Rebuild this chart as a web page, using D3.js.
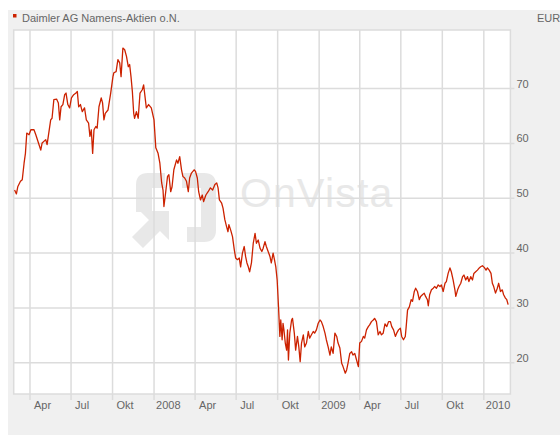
<!DOCTYPE html>
<html>
<head>
<meta charset="utf-8">
<script src="https://cdn.jsdelivr.net/npm/d3@7"></script>
<style>
  body { margin: 0; background: #fff; }
  svg { display: block; font-family: "Liberation Sans", Arial, sans-serif; }
</style>
</head>
<body>
<svg width="560" height="437"></svg>
<script>
var dates2007 = ["2007-02-27","2007-03-03","2007-03-06","2007-03-12","2007-03-16","2007-03-20","2007-03-23","2007-03-26","2007-03-31",
  "2007-04-04","2007-04-11","2007-04-15","2007-04-22","2007-04-26","2007-04-29","2007-05-07","2007-05-10","2007-05-18","2007-05-21",
  "2007-05-25","2007-05-31","2007-06-04","2007-06-07","2007-06-10","2007-06-14","2007-06-18","2007-06-21","2007-06-25","2007-06-29",
  "2007-07-03","2007-07-08","2007-07-13","2007-07-16","2007-07-19","2007-07-23","2007-07-27","2007-08-01","2007-08-05","2007-08-10",
  "2007-08-13","2007-08-16","2007-08-19","2007-08-22","2007-08-26","2007-08-29","2007-09-02","2007-09-07","2007-09-10","2007-09-13",
  "2007-09-16","2007-09-22","2007-09-28","2007-10-03","2007-10-05","2007-10-10","2007-10-14","2007-10-18","2007-10-21","2007-10-25",
  "2007-10-29","2007-11-02","2007-11-06","2007-11-09","2007-11-12","2007-11-15","2007-11-18","2007-11-20","2007-11-24","2007-11-28",
  "2007-12-02","2007-12-07","2007-12-10","2007-12-16","2007-12-21","2007-12-27"];
var close2007 = [51.4,50.7,52.0,53.0,53.3,56.3,58.1,61.8,61.5,
  62.4,62.4,61.5,59.7,58.7,60.0,60.6,59.7,64.2,64.5,
  67.9,68.0,67.3,64.2,66.6,67.0,68.8,69.1,67.0,66.4,
  68.2,68.8,69.1,69.4,66.6,67.0,65.7,66.4,64.2,63.6,
  61.2,62.4,58.1,62.4,63.0,62.7,66.6,68.2,67.3,64.2,
  65.4,66.0,69.1,72.1,72.8,73.0,75.2,74.6,72.1,77.3,
  77.0,75.8,73.9,74.3,72.1,69.4,65.4,64.5,65.7,64.5,
  69.1,69.7,70.6,66.4,67.0,66.4];

var dates2008 = ["2008-01-02","2008-01-06","2008-01-11","2008-01-15","2008-01-19","2008-01-22","2008-01-24","2008-01-28","2008-02-01",
  "2008-02-04","2008-02-08","2008-02-11","2008-02-15","2008-02-21","2008-02-24","2008-02-28","2008-03-03","2008-03-06","2008-03-10",
  "2008-03-14","2008-03-18","2008-03-21","2008-03-25","2008-03-31","2008-04-03","2008-04-07","2008-04-10","2008-04-14","2008-04-18",
  "2008-04-21","2008-04-26","2008-05-01","2008-05-06","2008-05-11","2008-05-16","2008-05-20","2008-05-23","2008-05-26","2008-05-31",
  "2008-06-03","2008-06-07","2008-06-11","2008-06-14","2008-06-16","2008-06-20","2008-06-24","2008-06-28","2008-07-01","2008-07-05",
  "2008-07-09","2008-07-12","2008-07-16","2008-07-20","2008-07-23","2008-07-26","2008-07-29","2008-08-01","2008-08-05","2008-08-09",
  "2008-08-13","2008-08-16","2008-08-20","2008-08-24","2008-08-28","2008-08-31","2008-09-04","2008-09-07","2008-09-11","2008-09-15",
  "2008-09-18","2008-09-22","2008-09-25","2008-09-28","2008-10-01","2008-10-04","2008-10-07","2008-10-09","2008-10-12","2008-10-14",
  "2008-10-16","2008-10-19","2008-10-22","2008-10-24","2008-10-26","2008-10-29","2008-11-02","2008-11-04","2008-11-08","2008-11-11",
  "2008-11-15","2008-11-18","2008-11-21","2008-11-24","2008-11-28","2008-12-01","2008-12-05","2008-12-09","2008-12-12","2008-12-16",
  "2008-12-20","2008-12-23","2008-12-27","2008-12-31"];
var close2008 = [64.2,59.1,58.1,56.3,52.7,51.4,48.4,51.1,53.9,
  54.2,51.1,52.0,55.1,56.9,56.3,57.5,55.1,53.9,53.6,
  53.0,51.1,53.6,54.5,55.1,54.8,53.6,51.1,49.6,50.5,
  49.3,50.5,51.1,51.8,51.4,52.4,52.7,51.8,49.6,49.0,
  48.1,46.0,44.7,43.8,45.1,44.1,42.9,40.5,39.0,38.7,
  39.0,37.4,39.9,41.1,39.3,38.1,37.4,36.5,38.1,41.7,
  43.5,41.7,42.3,40.8,40.2,40.8,42.0,41.1,40.2,39.3,
  38.1,39.9,38.7,37.4,35.0,30.1,24.7,27.7,24.1,27.1,
  25.9,23.5,22.2,25.9,20.4,25.3,27.7,28.0,25.3,22.2,
  24.7,22.8,20.1,23.5,25.0,22.8,23.5,25.6,24.4,25.0,
  25.6,25.3,25.9,27.1];

var dates2009 = ["2009-01-04","2009-01-07","2009-01-11","2009-01-15","2009-01-18","2009-01-22","2009-01-26","2009-01-29","2009-02-02",
  "2009-02-06","2009-02-10","2009-02-13","2009-02-17","2009-02-21","2009-02-24","2009-03-01","2009-03-04","2009-03-07","2009-03-11",
  "2009-03-15","2009-03-18","2009-03-22","2009-03-26","2009-03-30","2009-04-02","2009-04-06","2009-04-10","2009-04-13","2009-04-17",
  "2009-04-21","2009-04-24","2009-04-28","2009-05-02","2009-05-05","2009-05-09","2009-05-13","2009-05-17","2009-05-20","2009-05-24",
  "2009-05-28","2009-06-01","2009-06-05","2009-06-09","2009-06-12","2009-06-16","2009-06-20","2009-06-23","2009-06-27","2009-07-01",
  "2009-07-04","2009-07-08","2009-07-12","2009-07-14","2009-07-17","2009-07-21","2009-07-25","2009-07-28","2009-08-01","2009-08-04",
  "2009-08-08","2009-08-12","2009-08-15","2009-08-19","2009-08-23","2009-08-26","2009-08-30","2009-09-01","2009-09-04","2009-09-08",
  "2009-09-12","2009-09-15","2009-09-19","2009-09-23","2009-09-27","2009-09-30","2009-10-04","2009-10-08","2009-10-11","2009-10-15",
  "2009-10-19","2009-10-22","2009-10-26","2009-10-30","2009-11-01","2009-11-05","2009-11-08","2009-11-12","2009-11-16","2009-11-19",
  "2009-11-23","2009-11-27","2009-11-30","2009-12-04","2009-12-08","2009-12-11","2009-12-15","2009-12-19","2009-12-23","2009-12-26",
  "2009-12-30"];
var close2009 = [27.7,27.4,26.5,25.3,24.1,22.8,21.3,22.8,21.6,
  25.3,24.7,23.5,22.6,19.8,19.2,18.0,18.6,19.8,21.6,
  21.9,21.3,21.6,20.4,19.2,23.5,23.8,24.7,24.4,25.9,
  26.5,26.8,27.4,27.7,28.0,27.4,25.0,25.6,25.0,25.3,
  27.0,26.5,27.4,27.4,26.5,25.9,24.7,25.3,25.9,26.2,
  24.7,24.1,24.7,26.5,29.5,30.1,31.4,31.1,32.9,33.5,
  32.9,31.4,32.0,32.3,32.6,32.0,31.4,30.3,32.3,33.2,
  33.5,33.8,33.5,34.1,33.8,34.1,32.9,34.4,34.7,36.2,
  37.2,36.5,35.0,33.2,32.0,33.2,33.8,34.4,35.6,35.9,
  35.0,35.6,34.7,35.6,35.0,36.2,36.5,36.8,37.2,37.4,
  37.6];

var dates2010 = ["2010-01-03","2010-01-07","2010-01-10","2010-01-14","2010-01-18","2010-01-21","2010-01-24","2010-01-28","2010-02-01",
  "2010-02-04","2010-02-08","2010-02-12","2010-02-15","2010-02-19","2010-02-22","2010-02-25"];
var close2010 = [37.3,36.8,37.2,36.8,36.2,34.4,33.8,32.6,33.5,
  34.4,32.9,33.2,32.3,31.7,31.4,30.5];

// Achsen
var xTickDates = ["2007-04-01","2007-07-01","2007-10-01","2008-01-01","2008-04-01","2008-07-01","2008-10-01",
  "2009-01-01","2009-04-01","2009-07-01","2009-10-01","2010-01-01"];
var xTickLabels = ["Apr","Jul","Okt","2008","Apr","Jul","Okt","2009","Apr","Jul","Okt","2010"];
var yTicks = [20, 30, 40, 50, 60, 70];

var title = "Daimler AG Namens-Aktien o.N.";
var currency = "EUR";

var parse = d3.timeParse("%Y-%m-%d");

var data = [];
[[dates2007, close2007], [dates2008, close2008], [dates2009, close2009], [dates2010, close2010]].forEach(function(p) {
  p[0].forEach(function(d, i) {
    data.push({date: parse(d), close: p[1][i]});
  });
});

var svg = d3.select("svg");

var plotLeft = 13.7, plotRight = 510.4, plotTop = 30, plotBottom = 394;

var x = d3.scaleTime()
  .domain([parse("2007-02-25"), parse("2010-03-02")])
  .range([plotLeft, plotRight]);

var y = d3.scaleLinear()
  .domain([14.2, 80.6])
  .range([plotBottom, plotTop]);

// grauer Hintergrund
svg.append("rect")
  .attr("x", 8).attr("y", 10)
  .attr("width", 552).attr("height", 425)
  .attr("fill", "#f0f0f0");

// Titel
svg.append("rect")
  .attr("x", 13).attr("y", 14)
  .attr("width", 3.5).attr("height", 3.5)
  .attr("fill", "#cc2200");

svg.append("text")
  .attr("x", 22).attr("y", 22)
  .attr("font-size", 11)
  .attr("fill", "#666")
  .text(title);

svg.append("text")
  .attr("x", 537).attr("y", 22)
  .attr("font-size", 11)
  .attr("fill", "#666")
  .text(currency);

// Plotfläche
svg.append("rect")
  .attr("x", plotLeft).attr("y", plotTop)
  .attr("width", plotRight - plotLeft).attr("height", plotBottom - plotTop)
  .attr("fill", "#fff")
  .attr("stroke", "#dcdcdc")
  .attr("stroke-width", 1.5);

// Wasserzeichen (Logo + Schriftzug)
var wm = svg.append("g").attr("fill", "#e8e8e8");
wm.append("path")
  .attr("d", "M136,212 L136,185 Q136,173 148,173 L165,173 L165,188 L152,188 L152,212 Z");
wm.append("path")
  .attr("d", "M182,173 L204,173 Q216,173 216,185 L216,230 Q216,242 204,242 L187,242 L187,227 L201,227 L201,188 L182,188 Z");
wm.append("path")
  .attr("d", "M140,211 L169,211 L169,240 L160,231 L143,248 L132,237 L149,220 Z");
wm.append("text")
  .attr("x", 240).attr("y", 207)
  .attr("font-size", 41)
  .attr("letter-spacing", 1.2)
  .text("OnVista");

// Gitter + Achsen
var xAxis = d3.axisBottom(x)
  .tickValues(xTickDates.map(parse))
  .tickFormat(function(d, i) { return xTickLabels[i]; })
  .tickSize(plotBottom - plotTop + 6)
  .tickSizeOuter(0);

var gx = svg.append("g")
  .attr("transform", "translate(0," + plotTop + ")")
  .call(xAxis);
gx.select(".domain").remove();
gx.selectAll("line").attr("stroke", "#dcdcdc").attr("stroke-width", 1.5);
gx.selectAll("text")
  .attr("y", plotBottom - plotTop + 15)
  .attr("dy", 0)
  .attr("text-anchor", "start")
  .attr("x", function(d, i) { return /^\d/.test(xTickLabels[i]) ? 2 : 4; })
  .attr("fill", "#666")
  .attr("font-size", 11)
  .attr("font-family", "Liberation Sans, Arial, sans-serif");

var yAxis = d3.axisRight(y)
  .tickValues(yTicks)
  .tickSize(plotRight - plotLeft + 4)
  .tickSizeOuter(0);

var gy = svg.append("g")
  .attr("transform", "translate(" + plotLeft + ",0)")
  .call(yAxis);
gy.select(".domain").remove();
gy.selectAll("line").attr("stroke", "#dcdcdc").attr("stroke-width", 1.5);
gy.selectAll("text")
  .attr("x", plotRight - plotLeft + 6)
  .attr("dy", -1)
  .attr("fill", "#666")
  .attr("font-size", 11)
  .attr("font-family", "Liberation Sans, Arial, sans-serif");

// Kurslinie
var line = d3.line()
  .x(function(d) { return x(d.date); })
  .y(function(d) { return y(d.close); });

svg.append("path")
  .datum(data)
  .attr("fill", "none")
  .attr("stroke", "#cc2200")
  .attr("stroke-width", 1.3)
  .attr("stroke-linejoin", "round")
  .attr("d", line);
</script>
</body>
</html>
